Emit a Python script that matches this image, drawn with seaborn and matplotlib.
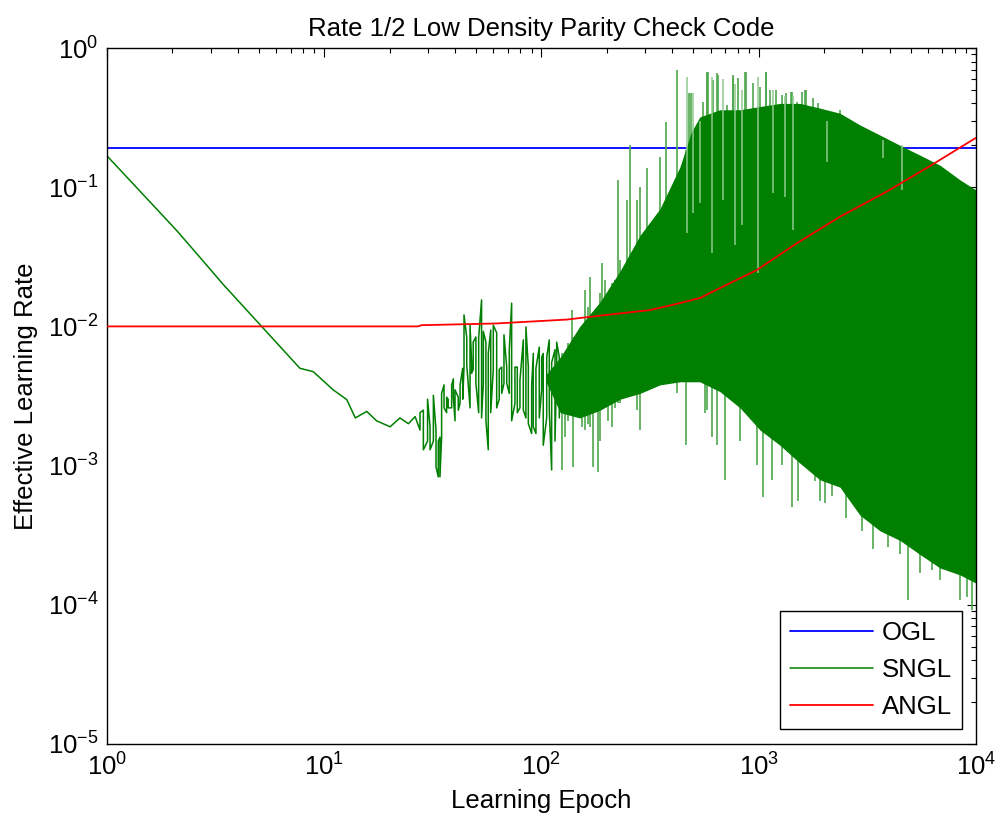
import numpy as np
import pandas as pd
import matplotlib
matplotlib.use("Agg")
import matplotlib.pyplot as plt
import seaborn as sns
from matplotlib.ticker import LogLocator, NullFormatter

# ---------------- data ----------------
ogl_x = [1, 10000]
ogl_y = [0.19, 0.19]

# smooth early part of SNGL
sngl_smooth_x = [1.0, 1.66, 2.09, 2.59, 3.43, 5.15, 6.37, 7.73, 8.9, 11.0, 12.7,
                 13.9, 15.7, 17.4, 20.1, 22.3, 24.4, 26.2]
sngl_smooth_y = [0.168, 0.072, 0.049, 0.0333, 0.0200, 0.0100, 0.00696, 0.0050,
                 0.00473, 0.0035, 0.00298, 0.0022, 0.00245, 0.0021, 0.0019, 0.0022,
                 0.0020, 0.00225]

# oscillating part of SNGL (individual swings: epoch, high, low)
sngl_osc_x = [27.6, 28.6, 29.9, 30.7, 31.8, 32.7, 33.5, 34.1, 34.7, 35.6, 36.6, 37.2,
              38.6, 39.3, 40.0, 41.4, 42.2, 43.4, 44.0, 45.3, 46.9, 47.7, 48.5, 49.9,
              51.4, 53.0, 54.0, 55.5, 56.9, 58.4, 60.0, 62.2, 63.9, 65.6, 67.2, 69.2,
              71.1, 72.9, 75.5, 77.4, 79.6, 82.5, 84.8, 87.0, 90.1, 91.7, 94.3, 97.7,
              100.2, 101.9, 105.7, 108.6, 111.4, 115.4, 117.5, 120.8]
sngl_osc_hi = [0.0024, 0.0025, 0.0030, 0.0019, 0.0032, 0.0018, 0.0015, 0.0016, 0.0033,
               0.0038, 0.0031, 0.0030, 0.0038, 0.0042, 0.0035, 0.0031, 0.0038, 0.0050,
               0.0121, 0.0083, 0.0102, 0.0055, 0.0077, 0.0084, 0.0083, 0.0155, 0.0092,
               0.0077, 0.0064, 0.0094, 0.0102, 0.0090, 0.0049, 0.0051, 0.0087, 0.0051,
               0.0068, 0.0147, 0.0051, 0.0051, 0.0041, 0.0080, 0.0099, 0.0051, 0.0037,
               0.0064, 0.0050, 0.0071, 0.0060, 0.0064, 0.0060, 0.0080, 0.0055, 0.0068,
               0.0077, 0.0060]
sngl_osc_lo = [0.0018, 0.0013, 0.0015, 0.0013, 0.0015, 0.00098, 0.00083, 0.00083, 0.0016,
               0.0026, 0.0024, 0.0026, 0.0026, 0.0031, 0.0021, 0.0025, 0.0028, 0.0030,
               0.0051, 0.0053, 0.0026, 0.0046, 0.0049, 0.0039, 0.0024, 0.0022, 0.0039,
               0.0021, 0.0013, 0.0024, 0.0049, 0.0026, 0.0030, 0.0033, 0.0039, 0.0039,
               0.0033, 0.0021, 0.0028, 0.0024, 0.0026, 0.0025, 0.0022, 0.0020, 0.0017,
               0.0019, 0.0017, 0.0022, 0.0035, 0.0014, 0.0022, 0.0025, 0.00093, 0.0015,
               0.0049, 0.0022]

# dense part of SNGL: solid band (epoch, upper, lower)
band_x = [105, 122, 150, 186, 230, 284, 351, 434, 490, 536, 663, 820, 1014, 1253, 1549,
          1914, 2366, 2925, 3615, 4468, 5523, 6827, 8439, 10000]
band_hi = [0.0045, 0.0060, 0.0100, 0.0150, 0.025, 0.045, 0.070, 0.14, 0.25, 0.32, 0.36,
           0.36, 0.38, 0.40, 0.40, 0.37, 0.34, 0.28, 0.237, 0.20, 0.17, 0.144, 0.113,
           0.0955]
band_lo = [0.0040, 0.0024, 0.0022, 0.0025, 0.0030, 0.0033, 0.0038, 0.0040, 0.0040,
           0.0040, 0.0034, 0.0026, 0.0018, 0.0014, 0.00104, 0.00079, 0.0007, 0.00044,
           0.00034, 0.00029, 0.00023, 0.000184, 0.000164, 0.000143]

# single swings sticking out of the dense band (epoch, high, low)
spike_x = [123.9, 128.3, 132.9, 137.7, 140.1, 145.2, 153.1, 158.6, 164.2, 167.2, 173.2,
           182.6, 185.9, 189.3, 196.0, 203.0, 210.5, 218, 225.7, 229.8, 246.7, 255.5,
           274.3, 284.1, 305, 351, 374, 419, 463, 479, 490, 576, 578, 642, 762, 874,
           1079, 1422, 1633, 2198, 2366,
           556, 586, 618, 651, 712, 764, 805, 864, 944, 1013, 1076, 1127, 1200, 1275,
           1335, 1403, 1495, 1577, 1650, 1783, 1880, 2018, 2128, 2243, 2540,
           566, 607, 640, 700, 820, 979, 1050, 1147, 1275, 1418, 1521, 1816, 1914, 2018,
           2167, 2514, 2978, 3365, 3950, 4468, 4880, 5523, 6252, 6827, 8006, 8439, 9060,
           9550]
spike_hi = [0.0064, 0.0064, 0.0076, 0.0131, 0.0084, 0.0068, 0.0071, 0.0183, 0.0138,
            0.0226, 0.0068, 0.0094, 0.0174, 0.0285, 0.0215, 0.0174, 0.0205, 0.0215, 0.113,
            0.030, 0.081, 0.20, 0.081, 0.100, 0.137, 0.165, 0.294, 0.695, 0.185, 0.475,
            0.475, 0.66, 0.67, 0.66, 0.62, 0.67, 0.67, 0.48, 0.50, 0.33, 0.36,
            0.411, 0.676, 0.589, 0.64, 0.39, 0.64, 0.606, 0.676, 0.558, 0.527, 0.676,
            0.499, 0.499, 0.46, 0.473, 0.485, 0.411, 0.485, 0.499, 0.435, 0.40, 0.358,
            0.265, 0.34, 0.28,
            0.01, 0.01, 0.01, 0.01, 0.01, 0.01, 0.01, 0.01, 0.01, 0.01, 0.01, 0.01, 0.01,
            0.01, 0.01, 0.01, 0.01, 0.01, 0.01, 0.01, 0.01, 0.01, 0.01, 0.01, 0.01, 0.01,
            0.01, 0.01]
spike_lo = [0.00093, 0.0016, 0.0021, 0.0025, 0.00098, 0.0025, 0.0019, 0.0018, 0.0020,
            0.0019, 0.00098, 0.00090, 0.0015, 0.0043, 0.0057, 0.0021, 0.0019, 0.0026,
            0.0028, 0.0028, 0.0057, 0.0037, 0.0025, 0.0018, 0.0035, 0.0057, 0.0057,
            0.0033, 0.0014, 0.0041, 0.01, 0.0025, 0.01, 0.01, 0.01, 0.01, 0.01, 0.01,
            0.01, 0.01, 0.01,
            0.1, 0.1, 0.1, 0.1, 0.1, 0.1, 0.1, 0.1, 0.1, 0.1, 0.1, 0.1, 0.1, 0.1, 0.1,
            0.1, 0.1, 0.1, 0.1, 0.1, 0.1, 0.1, 0.1, 0.1, 0.1,
            0.0024, 0.0016, 0.0014, 0.00079, 0.0015, 0.00101, 0.00059, 0.00079, 0.00101,
            0.00050, 0.00056, 0.00077, 0.00056, 0.00054, 0.00060, 0.00042, 0.00034,
            0.00025, 0.00026, 0.00023, 0.000108, 0.000168, 0.000178, 0.000151, 0.00019,
            0.000108, 0.000113, 0.000092]

# deep single dips that leave pale slits in the top of the dense band
dip_x = [466, 500, 536, 607, 687, 778, 835, 995, 1167, 1321, 1443, 2055, 3744, 4550]
dip_hi = [0.62, 0.475, 0.30, 0.62, 0.60, 0.55, 0.50, 0.62, 0.50, 0.45, 0.45, 0.30, 0.22,
          0.20]
dip_lo = [0.0467, 0.0649, 0.0766, 0.0335, 0.081, 0.0384, 0.0535, 0.0241, 0.0904, 0.0855,
          0.0493, 0.152, 0.161, 0.0955]

angl_x = [1, 27, 28, 62, 131, 200, 316, 434, 537, 615, 880, 980, 1495, 2366, 3880,
          6140, 9890, 10000]
angl_y = [0.0100, 0.0100, 0.0102, 0.0105, 0.0112, 0.0121, 0.0131, 0.0147, 0.0160,
          0.0178, 0.0234, 0.0254, 0.0395, 0.0614, 0.0929, 0.142, 0.224, 0.226]

title = "Rate 1/2 Low Density Parity Check Code"
xlabel = "Learning Epoch"
ylabel = "Effective Learning Rate"
series_names = ["OGL", "SNGL", "ANGL"]

# ---------------- styling ----------------
sns.set_theme(style="white")
plt.rcParams["font.family"] = ["Liberation Sans", "DejaVu Sans"]
plt.rcParams["mathtext.fontset"] = "custom"
plt.rcParams["mathtext.rm"] = "Liberation Sans"
plt.rcParams["mathtext.it"] = "Liberation Sans:italic"
plt.rcParams["mathtext.bf"] = "Liberation Sans:bold"
plt.rcParams["text.color"] = "black"

BLUE = "#0000ff"
GREEN = "#007f00"
LIGHT_GREEN = "#4fa84f"
PALE_GREEN = "#8fc98f"
RED = "#ff0000"
FS = 18.5

fig = plt.figure(figsize=(9.97, 8.25), dpi=100)
ax = fig.add_axes([0.1073, 0.0982, 0.8716, 0.8436])

# OGL
sns.lineplot(x=ogl_x, y=ogl_y, ax=ax, color=BLUE, lw=1.3, label=series_names[0],
             estimator=None, sort=False)

# SNGL: smooth start followed by the zig-zag swings
path_x = list(sngl_smooth_x)
path_y = list(sngl_smooth_y)
for i, (xv, hv, lv) in enumerate(zip(sngl_osc_x, sngl_osc_hi, sngl_osc_lo)):
    path_x += [xv, xv]
    path_y += ([lv, hv] if i % 2 == 0 else [hv, lv])
sns.lineplot(x=path_x, y=path_y, ax=ax, color=GREEN, lw=1.1, label=series_names[1],
             estimator=None, sort=False)
ax.vlines(spike_x, spike_lo, spike_hi, color=LIGHT_GREEN, lw=1.2, zorder=2)
ax.fill_between(band_x, band_lo, band_hi, color=GREEN, lw=0, zorder=2.1)
ax.vlines(dip_x, dip_lo, dip_hi, color=PALE_GREEN, lw=1.1, zorder=2.2)

# ANGL
sns.lineplot(x=angl_x, y=angl_y, ax=ax, color=RED, lw=1.3, label=series_names[2],
             estimator=None, sort=False, zorder=3)

ax.set_xscale("log")
ax.set_yscale("log")
ax.set_xlim(1, 1e4)
ax.set_ylim(1e-5, 1)

ax.xaxis.set_major_locator(LogLocator(base=10, numticks=10))
ax.yaxis.set_major_locator(LogLocator(base=10, numticks=10))
ax.xaxis.set_minor_locator(LogLocator(base=10, subs=np.arange(2, 10), numticks=50))
ax.yaxis.set_minor_locator(LogLocator(base=10, subs=np.arange(2, 10), numticks=50))
ax.xaxis.set_minor_formatter(NullFormatter())
ax.yaxis.set_minor_formatter(NullFormatter())

ax.tick_params(which="both", direction="in", top=True, right=True, color="black",
               width=0.8, labelsize=FS, labelcolor="black")
ax.tick_params(which="major", length=6.5)
ax.tick_params(which="minor", length=3.6)
ax.tick_params(axis="x", which="major", pad=7)
ax.tick_params(axis="y", which="major", pad=6)

for sp in ax.spines.values():
    sp.set_color("black")
    sp.set_linewidth(1.0)

ax.set_title(title, fontsize=FS, color="black", pad=9)
ax.set_xlabel(xlabel, fontsize=FS, color="black", labelpad=6)
ax.set_ylabel(ylabel, fontsize=FS, color="black", labelpad=7)

handles, labels = ax.get_legend_handles_labels()
leg = ax.legend(handles, labels, loc="lower right", bbox_to_anchor=(0.984, 0.0216),
                borderaxespad=0, fontsize=FS, frameon=True, fancybox=False,
                edgecolor="black", framealpha=1, handlelength=3.2, handletextpad=0.35,
                labelspacing=0.5, borderpad=0.4)
leg.get_frame().set_linewidth(1.0)
for t in leg.get_texts():
    t.set_color("black")

fig.savefig("out.png", dpi=100)
